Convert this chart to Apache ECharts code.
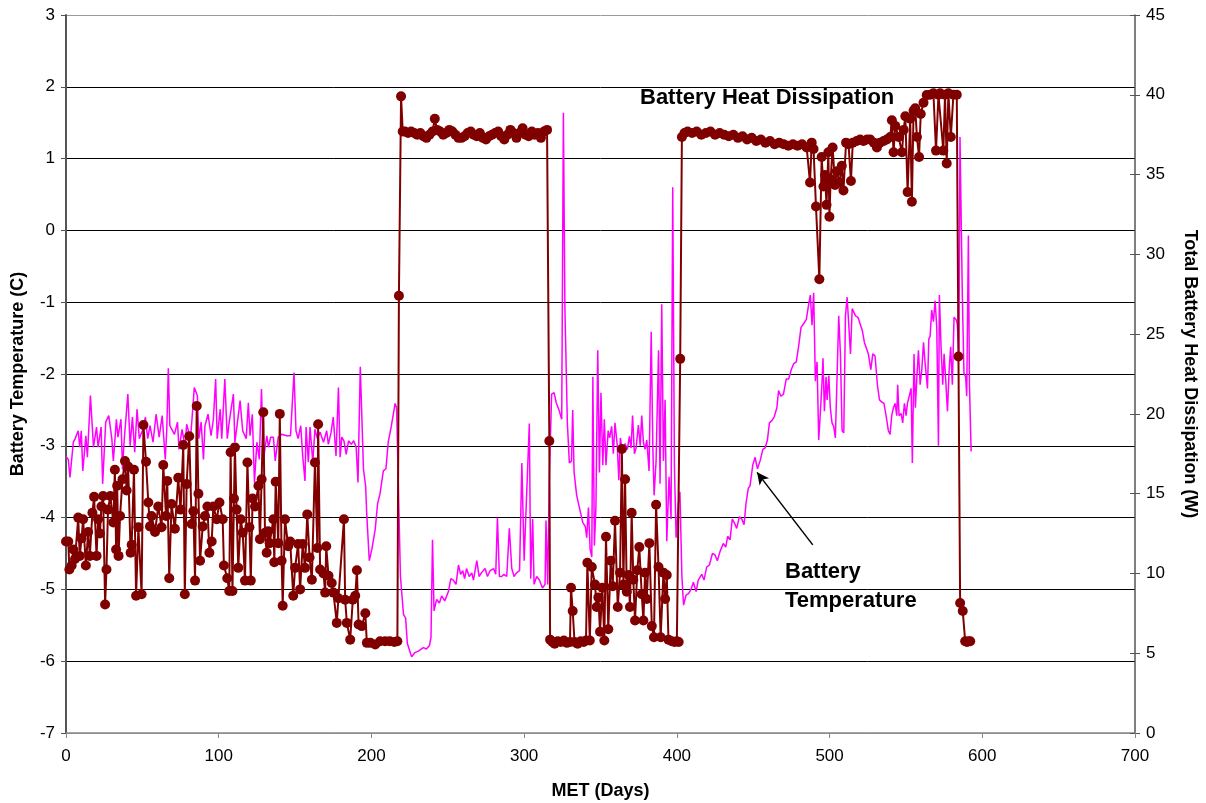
<!DOCTYPE html>
<html>
<head>
<meta charset="utf-8">
<title>Battery Temperature and Heat Dissipation</title>
<script src="https://cdn.jsdelivr.net/npm/echarts@6/dist/echarts.min.js"></script>
<style>
  html, body { margin: 0; padding: 0; background: #fff; }
  #chart { width: 1206px; height: 803px; }
</style>
</head>
<body>
<div id="chart"></div>
<script>
// [day, battery temperature C] - left axis
const tempReadings = [
  [0,-3.15],[1.5,-3.19],[2.6,-3.44],[4.8,-2.95],[6,-2.9],[8,-2.79],[9,-3.02],[10,-2.79],[11,-3.35],[13,-2.86],[14,-3.16],[16,-2.3],[18,-3.02],[20,-2.74],[21,-3.02],[23,-2.74],[24,-3.53],[26,-2.67],[28,-2.58],[30,-2.9],[31,-3.21],[33,-2.63],[34,-2.88],[36,-2.63],[37,-3.33],[38,-2.95],[40.5,-2.28],[42,-3.0],[43.5,-2.6],[45,-3.09],[46.5,-2.49],[48,-2.9],[50,-2.79],[52,-2.6],[53.5,-2.9],[55,-2.72],[57,-2.95],[59,-2.56],[61,-2.88],[63,-2.58],[65,-3.19],[66,-2.77],[67,-1.92],[68,-2.72],[71,-2.84],[73,-2.67],[74,-3.05],[76,-2.77],[78,-3.02],[79,-2.7],[81.5,-2.9],[82.5,-2.63],[84,-2.19],[86,-2.3],[87,-2.9],[88.5,-2.67],[90,-3.19],[91,-2.72],[93,-2.56],[95,-2.86],[96.5,-2.63],[98,-2.07],[99,-2.9],
  [101,-2.49],[102,-2.9],[104,-2.07],[105.6,-2.9],[107,-2.65],[109.6,-2.28],[110.6,-2.95],[112,-2.72],[114,-2.37],[115.7,-2.79],[118,-2.9],[119.4,-2.4],[120.5,-2.86],[122,-2.56],[123.4,-3.51],[125,-2.95],[126.6,-3.19],[128,-2.21],[129.3,-3.19],[131.5,-2.86],[132.6,-3.02],[134,-2.88],[135.8,-2.88],[137,-3.21],[139,-2.88],[141.2,-2.84],[144.5,-2.86],[147,-2.86],[149.3,-1.98],[150.6,-2.79],[152,-2.9],[153.7,-2.72],[155,-3.14],[156.5,-3.49],[157.2,-2.74],[158.7,-3.23],[159.8,-2.74],[161.6,-3.23],[163,-2.77],[164.6,-2.9],[166.4,-2.81],[168.6,-2.95],[170.7,-2.79],[171.8,-2.98],[173.6,-2.81],[175,-2.6],[176.8,-3.14],[178.4,-2.19],[179.5,-3.16],[180.6,-2.88],[182,-2.93],[183.5,-3.12],[185,-2.93],[186.8,-2.98],[188.4,-2.93],[190,-3.02],[191.2,-3.51],[192.7,-1.9],[194.8,-3.33],[196.2,-3.56],[197,-3.98],[198.6,-4.6],
  [200.3,-4.44],[202.5,-4.16],[204,-3.81],[205.6,-3.67],[207.8,-3.35],[209.5,-3.32],[211,-2.95],[213,-2.73],[215.5,-2.41],[216.5,-2.47],[217.6,-3.53],[219,-4.82],[221,-5.35],[222.4,-5.4],[223.5,-5.75],[226.3,-5.94],[228.5,-5.88],[230.7,-5.86],[234,-5.81],[236,-5.83],[238,-5.78],[239,-5.67],[240,-4.31],[241,-5.3],[242.7,-5.14],[244.5,-5.19],[246,-5.09],[248,-5.16],[250.4,-5.03],[252,-4.85],[253.6,-4.87],[255.4,-4.93],[257,-4.66],[258.4,-4.79],[259.8,-4.74],[261,-4.85],[262.3,-4.71],[264,-4.82],[265.7,-4.77],[266.8,-4.87],[269,-4.6],[270.5,-4.82],[272,-4.77],[274.4,-4.71],[276,-4.82],[277.7,-4.74],[280,-4.71],[281.4,-4.79],[282.5,-4.0],[283.8,-4.82],[285.3,-4.82],[286.8,-4.79],[288.6,-4.82],[290.3,-4.15],[291.9,-4.71],[293.4,-4.82],[295,-4.77],[297,-4.74],[298.5,-3.24],
  [300,-4.6],[301.3,-4.6],[303.4,-2.69],[304.3,-4.85],[305.6,-4.02],[306.5,-4.93],[308.2,-4.82],[310,-4.87],[312,-4.98],[313.7,-4.93],[314.3,-4.04],[315.4,-4.93],[316.5,-3.43],[318,-2.28],[319.6,-2.26],[321,-2.4],[322.8,-2.5],[324.6,-2.63],[325.7,1.64],[326.7,-1.09],[328.3,-2.68],[329.6,-3.24],[331,-3.21],[331.8,-2.5],[332.7,-3.37],[334.4,-3.69],[336.6,-3.9],[338.4,-4.07],[340,-4.12],[341,-4.28],[342.1,-3.86],[343.2,-4.44],[344.3,-4.55],[345,-2.04],[346,-4.39],[347,-3.86],[348.2,-1.67],[349.3,-3.37],[350.3,-2.26],[351.5,-3.27],[352.5,-2.63],[353.6,-3.27],[355,-2.79],[356,-2.89],[357.3,-2.73],[358.4,-3.11],[359.5,-2.68],[361,-3.0],[362,-3.48],[363,-2.89],[364.5,-3.11],[366,-2.97],[367.6,-3.05],[368.9,-2.87],[370,-3.03],[371,-2.58],[372.2,-3.11],[373.3,-3.03],[374.8,-2.71],[376,-3.0],[377,-2.58],[378.1,-2.95],[379.2,-3.05],[380.3,-2.92],[381.8,-3.35],[383.2,-1.41],[384.3,-3.05],[385.1,-3.69],[386.4,-3.21],[388,-1.67],[389,-3.53],[390.1,-1.03],[391.2,-3.21],[392.3,-2.36],[393.4,-4.33],[394.9,-3.43],[396.2,-4.02],[397.3,0.6],[398.4,-3.27],[399.5,-4.28],
  [401,-3.8],[402,-3.64],[403.3,-4.82],[404.4,-5.22],[406,-5.08],[407.6,-5.06],[409.3,-5.0],[410.8,-4.9],[412.6,-5.03],[414,-4.87],[416.3,-4.79],[417.8,-4.87],[419.5,-4.69],[421.3,-4.66],[423.3,-4.5],[425,-4.52],[426.5,-4.6],[428.3,-4.47],[430.4,-4.36],[432,-4.41],[433.3,-4.26],[434.8,-4.31],[436.3,-4.02],[437.6,-4.07],[439.2,-4.15],[440.9,-3.99],[442.5,-4.02],[444,-4.1],[445.3,-3.8],[446.8,-3.59],[447.9,-3.56],[449.7,-3.27],[451.2,-3.16],[452.8,-3.32],[454.5,-3.21],[456.3,-3.05],[457.8,-3.03],[459.3,-2.92],[460.6,-2.68],[462.2,-2.65],[463.7,-2.6],[465.5,-2.47],[466.6,-2.23],[468.1,-2.31],[469.8,-2.28],[471.6,-2.07],[473.2,-2.07],[474.9,-1.94],[476.4,-1.86],[478.2,-1.83],[479.7,-1.62],[481.3,-1.35],[483,-1.3],[484.8,-1.24],[486.3,-1.03],[487.4,-0.9],[488.5,-1.32],[489.6,-0.87],[490.7,-2.1],[491.8,-1.83],[492.9,-2.92],[494,-2.52],[495.1,-2.1],[495.7,-1.78],[496.6,-2.52],[497.7,-2.04],[498.4,-2.36],[499.5,-2.02],
  [500.5,-2.47],[501.6,-2.68],[502.7,-2.73],[503.8,-2.89],[504.9,-2.04],[506,-1.19],[507.1,-1.72],[508.2,-2.79],[509.3,-2.82],[510.4,-1.19],[511.5,-0.93],[512.6,-0.95],[513.7,-1.72],[514.8,-1.09],[517,-1.19],[518.6,-1.21],[520.3,-1.32],[521.5,-1.4],[522.8,-1.56],[524,-1.56],[525.4,-1.72],[527,-1.94],[528.3,-1.72],[529.8,-1.75],[531.3,-2.15],[532.7,-2.36],[534.1,-2.39],[535.6,-2.41],[537,-2.58],[538.5,-2.79],[539.6,-2.84],[540.7,-2.58],[541.8,-2.47],[542.9,-2.41],[544,-2.58],[544.6,-2.15],[545.5,-2.58],[546.8,-2.55],[547.9,-2.68],[549,-2.41],[550.1,-2.58],[551,-2.41],[552.3,-2.41],[553.4,-2.2],[554.2,-3.24],[555.3,-1.72],[556.2,-2.47],[557.1,-2.07],[558.2,-1.67],[559.3,-2.15],[560.4,-1.94],[561.5,-1.56],[562.5,-1.83],[564.1,-2.2],[565,-1.51],[565.8,-1.48],[566.9,-1.11],[568,-1.27],[569.1,-0.98],[570.2,-1.35],[571.3,-3.0],[571.9,-0.9],[573,-1.62],[574.1,-2.15],[575,-1.72],[576.1,-2.1],[577.2,-2.52],[578.3,-1.94],[579.3,-1.62],[580.4,-2.15],[581.5,-1.21],[582.8,-1.24],[583.6,-1.3],[584.7,-1.72],[585.4,1.3],[586.9,-0.87],[588,-1.99],[589.1,-2.04],[589.8,-2.31],[590.9,-0.07],[591.6,-2.15],[592.7,-3.08]
]

// [day, total battery heat dissipation W] - right axis
const heatReadings = [
  [0,12.0],[1.5,12.0],[2.2,10.25],[3.7,10.5],[4.8,11.5],[5.9,10.9],[8,13.5],[9,11.1],[10.2,12.2],[11.2,13.4],[13,10.5],[14.5,12.6],[15.6,11.1],[17.3,13.8],[18.4,14.8],[20,11.1],[21,13.4],[22.2,12.5],[23.2,14.2],[24.3,14.85],[25.6,8.05],[26.5,10.25],[27.5,14.0],[29,14.85],[31,13.2],[32,16.5],[32.8,11.5],[33.5,15.5],[34.4,11.1],[35.4,13.6],[37,15.9],[38.6,17.05],[39.7,15.2],[40.7,16.7],[42.3,11.3],[43,11.8],[44.5,16.5],[45.9,8.6],[47.4,12.9],[49.5,8.7],[50.7,19.3],[52.4,17.0],[53.9,14.45],[55,12.95],[56,13.6],[58.3,12.6],[60.4,14.2],[62.6,12.9],[63.7,16.8],[65.5,13.6],[66.3,15.8],[67.6,9.7],[69.1,14.35],[71.3,12.8],[73.5,16.0],[75,14.0],[76.8,18.05],[77.8,8.7],[79,15.6],[80.7,18.6],[82.3,13.1],[83.4,13.9],[84.5,9.55],[85.6,20.5],[86.7,15.0],[87.8,10.8],[89.5,12.95],[91,13.6],[92.6,14.2],[93.9,11.3],[95.4,12.0],[96.5,14.2],[98.7,13.4],
  [100.5,14.45],[102.6,13.4],[103.4,10.5],[105.6,9.7],[106.9,8.9],[107.8,17.6],[109,8.9],[110,14.7],[110.6,17.9],[111.7,14.0],[112.8,10.35],[114.4,13.4],[115.7,12.55],[117.2,9.55],[118.8,16.95],[120.1,12.9],[121,9.55],[122.2,14.7],[123.8,14.2],[126,15.5],[127,12.15],[128.1,15.9],[129.2,20.1],[130.3,12.55],[131.4,11.3],[132.4,12.65],[133.4,11.9],[135.8,13.4],[136.4,10.7],[137.3,15.75],[139,11.9],[140,20.0],[141.2,10.8],[141.9,7.97],[143.4,13.4],[145.5,11.7],[146.8,12.0],[148.8,8.6],[150,10.35],[152,11.85],[153.3,9.0],[155,11.85],[156.5,10.35],[158,13.7],[159.5,11.0],[161,9.6],[163,16.95],[164.6,11.6],[165.1,19.35],[166.4,10.25],[168.6,10.0],[169.7,8.8],[170.4,11.7],[171.9,9.85],[174,9.4],[175.1,8.8],[177.3,6.9],[178.4,8.45],[182,13.4],[182.8,8.35],[183.9,6.9],[186.1,5.85],[187.8,8.35],[189.4,8.6],[190.5,10.2],[191.6,6.8],[193.7,6.7],[196,7.5],[197,5.65],[199.3,5.65],
  [202.5,5.55],[205.7,5.75],[209,5.75],[212,5.75],[215,5.7],[217,5.75],[218,27.4],[219.4,39.9],[220.5,37.7],[222,37.7],[224,37.6],[226,37.7],[228,37.6],[230,37.5],[232,37.6],[234,37.4],[236,37.3],[238,37.5],[240,37.7],[241.5,38.5],[243,37.8],[245,37.7],[247,37.5],[249,37.6],[251,37.8],[253,37.7],[255,37.5],[257,37.3],[259,37.3],[261,37.4],[263,37.6],[265,37.7],[267,37.5],[269,37.4],[271,37.6],[273,37.3],[275,37.2],[277,37.4],[279,37.5],[281,37.6],[283,37.7],[285,37.4],[287,37.2],[289,37.5],[291,37.8],[293,37.6],[295,37.3],[297,37.6],[299,37.9],
  [301,37.5],[303,37.4],[305,37.7],[307,37.5],[309,37.6],[311,37.3],[313,37.7],[315,37.8],[316.5,18.3],[317,5.85],[318.5,5.7],[320,5.6],[322,5.75],[324,5.7],[326,5.8],[328,5.65],[330,5.7],[330.7,9.1],[331.8,7.65],[333,5.7],[335,5.6],[337,5.75],[339,5.7],[340.5,5.8],[341.4,10.67],[343,5.8],[344.3,10.4],[346.4,9.3],[347.5,7.9],[348.6,8.5],[349.7,6.35],[351.2,9.1],[352.5,5.8],[353.6,12.3],[355.1,6.5],[356.7,10.8],[358,9.2],[359.5,13.3],[361.3,7.9],[362.8,10.05],[364,17.8],[365,9.3],[366.1,15.9],[367.2,8.85],[368.3,9.9],[369.3,7.9],[370.4,13.8],[371.5,9.6],[372.6,7.05],[374.1,10.2],[375.4,11.65],[377,8.7],[378.1,7.05],[379.2,10.05],[380.3,8.4],[382,11.9],[383.6,6.7],[385,6.0],[386.4,14.3],[388,10.4],[389.4,6.0],[391.2,10.05],[392.3,8.4],[393.4,9.9],[394.5,5.85],[396.7,5.75],[398.5,5.7],
  [400,5.75],[401.2,5.7],[402.2,23.45],[403.3,37.35],[405,37.6],[407,37.7],[410,37.6],[413,37.7],[416,37.5],[419,37.6],[422,37.7],[425,37.5],[428,37.6],[431,37.5],[434,37.4],[437,37.5],[440,37.3],[443,37.4],[446,37.2],[449,37.3],[452,37.1],[455,37.2],[458,37.0],[461,37.1],[464,36.9],[467,37.0],[470,36.9],[473,36.8],[476,36.9],[479,36.8],[482,36.9],[485,36.7],[487.2,34.5],[488.3,37.0],[489.5,36.6],[491.1,33.0],[493.3,28.44],[494.8,36.1],[496,34.25],[497,34.97],[498,33.1],[499.2,36.4],[499.9,32.35],
  [500.7,34.7],[502,36.7],[503.6,34.35],[504.7,35.2],[506.5,34.5],[508,35.55],[509.1,34.0],[510.8,37.0],[512.4,36.9],[514,34.6],[515.2,37.0],[517.8,37.1],[520,37.2],[522.2,37.1],[524.5,37.2],[526.6,37.2],[529,37.0],[531,36.7],[533,37.0],[535.4,37.1],[537.5,37.2],[539.7,37.35],[540.8,38.4],[541.9,36.4],[543,38.05],[545.2,37.35],[547.4,36.4],[548.5,37.8],[549.6,38.65],[551.1,33.9],[552.8,38.5],[553.9,33.3],[555,39.0],[556.1,39.15],[557.2,37.35],[558.6,36.1],[559.7,38.8],[561.5,39.5],[563.6,39.98],[565.8,40.0],[568,40.1],[569.7,36.5],[571.3,40.0],[572.4,40.1],[574.5,36.5],[575.6,40.0],[576.7,35.7],[577.8,40.1],[579.4,37.35],[581.1,40.0],[583.3,40.0],[584.4,23.6],[585.5,8.15],[587.2,7.65],[588.8,5.75],[590,5.7],[591,5.75],[592.1,5.75]
]

const dayTicks = { min: 0, max: 700, step: 100 }
const tempTicks = { min: -7, max: 3, step: 1 }
const heatTicks = { min: 0, max: 45, step: 5 }

const font = 'Liberation Sans, Arial, sans-serif'
const tickFont = { fontFamily: font, fontSize: 17, color: '#000' }
const titleFont = { fontFamily: font, fontSize: 18, fontWeight: 'bold', color: '#000' }

const chart = echarts.init(document.getElementById('chart'))
chart.setOption({
  animation: false,
  grid: { left: 66, right: 71, top: 15, bottom: 70, containLabel: false, outerBoundsMode: 'none' },
  xAxis: {
    type: 'value',
    min: dayTicks.min,
    max: dayTicks.max,
    interval: dayTicks.step,
    name: 'MET (Days)',
    nameLocation: 'middle',
    nameGap: 49,
    nameTextStyle: titleFont,
    axisLine: { onZero: false, lineStyle: { color: '#888', width: 1.5 } },
    axisTick: { length: 5, lineStyle: { color: '#888' } },
    axisLabel: Object.assign({ margin: 15 }, tickFont),
    splitLine: { show: false }
  },
  yAxis: [{
    type: 'value',
    min: tempTicks.min,
    max: tempTicks.max,
    interval: tempTicks.step,
    name: 'Battery Temperature (C)',
    nameLocation: 'middle',
    nameGap: 39,
    nameTextStyle: titleFont,
    axisLine: { show: true, lineStyle: { color: '#555', width: 2 } },
    axisTick: { show: true, length: 5, lineStyle: { color: '#555' } },
    axisLabel: Object.assign({ margin: 11 }, tickFont),
    splitLine: {
      show: true,
      lineStyle: { color: ['#999', '#000', '#000', '#000', '#000', '#000', '#000', '#000', '#000', '#000', '#999'], width: 1 }
    }
  }, {
    type: 'value',
    min: heatTicks.min,
    max: heatTicks.max,
    interval: heatTicks.step,
    position: 'right',
    name: 'Total Battery Heat Dissipation (W)',
    nameLocation: 'middle',
    nameRotate: -90,
    nameGap: 46,
    nameTextStyle: titleFont,
    axisLine: { show: true, lineStyle: { color: '#555', width: 1.5 } },
    axisTick: { show: true, length: 5, lineStyle: { color: '#555' } },
    axisLabel: Object.assign({ margin: 11 }, tickFont),
    splitLine: { show: false }
  }, {
    // inner half of the crossing ticks on the right axis
    type: 'value',
    min: heatTicks.min,
    max: heatTicks.max,
    interval: heatTicks.step,
    position: 'right',
    axisLine: { show: false },
    axisTick: { show: true, inside: true, length: 5, lineStyle: { color: '#555' } },
    axisLabel: { show: false },
    splitLine: { show: false }
  }],
  series: [{
    name: 'Battery Temperature',
    type: 'line',
    yAxisIndex: 0,
    data: tempReadings,
    showSymbol: false,
    lineStyle: { color: '#ff00ff', width: 1.5 },
    itemStyle: { color: '#ff00ff' },
    z: 2,
    markLine: {
      silent: true,
      symbol: ['none', 'arrow'],
      symbolSize: [9, 12],
      label: { show: false },
      lineStyle: { color: '#000', width: 1.5, type: 'solid' },
      data: [[{ coord: [489, -4.38] }, { coord: [452.5, -3.37] }]]
    }
  }, {
    name: 'Battery Heat Dissipation',
    type: 'line',
    yAxisIndex: 1,
    data: heatReadings,
    symbol: 'circle',
    symbolSize: 10,
    lineStyle: { color: '#800000', width: 2 },
    itemStyle: { color: '#800000' },
    z: 3
  }],
  graphic: [{
    type: 'text',
    left: 640,
    top: 87,
    style: { text: 'Battery Heat Dissipation', font: 'bold 22px ' + font, fill: '#000' }
  }, {
    type: 'text',
    left: 785,
    top: 557,
    style: { text: 'Battery\nTemperature', font: 'bold 22px ' + font, fill: '#000', lineHeight: 29 }
  }]
})
</script>
</body>
</html>
